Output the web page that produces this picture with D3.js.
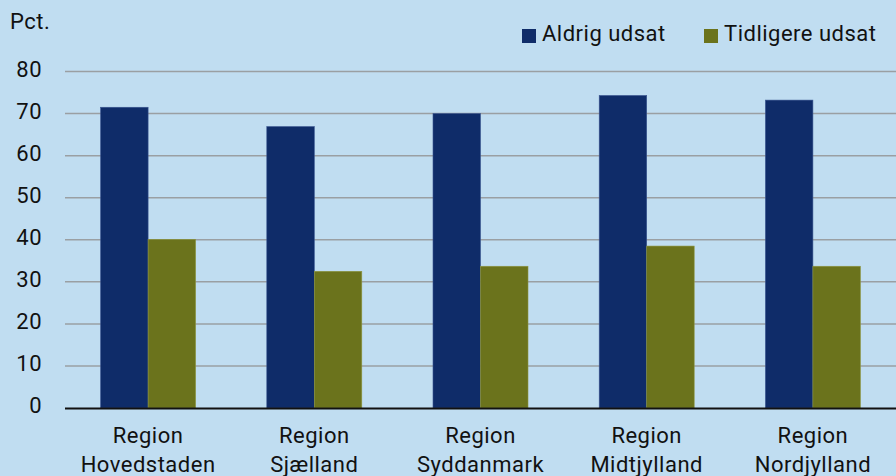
<!DOCTYPE html>
<html><head><meta charset="utf-8">
<script src="https://cdn.jsdelivr.net/npm/d3@7"></script>
<style>
html,body{margin:0;padding:0;background:#c0ddf1;}
svg{display:block;}
text{font-family:Roboto,"DejaVu Sans",sans-serif;fill:#111;letter-spacing:0.5px;}
</style></head><body>
<svg id="chart" width="896" height="476"></svg>
<script>
const categories = [["Region","Hovedstaden"],["Region","Sjælland"],["Region","Syddanmark"],["Region","Midtjylland"],["Region","Nordjylland"]];
const seriesNames = ["Aldrig udsat","Tidligere udsat"];
const aldrig = [71.5, 66.9, 70.0, 74.3, 73.2];
const tidligere = [40.1, 32.5, 33.7, 38.5, 33.7];
const yTicks = [0,10,20,30,40,50,60,70,80];
const colors = ["#0f2c69","#6b731c"];

const svg = d3.select("#chart");
const W=896,H=476;
const m={left:65,right:0,top:71.5,bottom:68};
const FS=22;
svg.append("rect").attr("width",W).attr("height",H).attr("fill","#c0ddf1");

const x = d3.scaleBand().domain(d3.range(categories.length)).range([m.left,W-m.right]).paddingInner(0).paddingOuter(0);
const y = d3.scaleLinear().domain([0,80]).range([H-m.bottom, m.top]);

// gridlines
svg.append("g").selectAll("line").data(yTicks.filter(d=>d>0)).join("line")
  .attr("x1",m.left).attr("x2",W).attr("y1",d=>y(d)).attr("y2",d=>y(d))
  .attr("stroke","#9a9fa3").attr("stroke-width",1.5);

// y tick labels
const yAxis = d3.axisLeft(y).tickValues(yTicks).tickSize(0).tickPadding(0);
const ga = svg.append("g").attr("transform",`translate(42,0)`).call(yAxis);
ga.select(".domain").remove();
ga.selectAll("text").attr("font-size",FS).attr("font-family","Roboto, sans-serif").attr("fill","#111").attr("dy",null).attr("y",4.5).style("letter-spacing","0.5px");

// bars
const bw = 47.5;
const data = [aldrig, tidligere];
data.forEach((vals,si)=>{
  svg.append("g").selectAll("rect").data(vals).join("rect")
    .attr("x",(d,i)=>x(i)+x.bandwidth()/2 - bw + si*bw)
    .attr("width",bw)
    .attr("y",d=>y(d)).attr("height",d=>y(0)-y(d))
    .attr("fill",colors[si]).attr("stroke",si===0?"#3a5590":"#8e9540").attr("stroke-width",0.6);
});

// x axis
svg.append("line").attr("x1",m.left).attr("x2",W).attr("y1",y(0)+0.5).attr("y2",y(0)+0.5).attr("stroke","#111").attr("stroke-width",2);

const xl = svg.append("g").selectAll("text").data(categories).join("text")
  .attr("text-anchor","middle").attr("font-size",FS)
  .attr("x",(d,i)=>x(i)+x.bandwidth()/2).attr("y",443);
xl.append("tspan").attr("x",(d,i)=>x(i)+x.bandwidth()/2).text(d=>d[0]);
xl.append("tspan").attr("x",(d,i)=>x(i)+x.bandwidth()/2).attr("dy",29).text(d=>d[1]);

// Pct label
svg.append("text").attr("x",10).attr("y",29).attr("font-size",FS).text("Pct.");

// legend
const legX=[522,704];
seriesNames.forEach((n,i)=>{
  svg.append("rect").attr("x",legX[i]).attr("y",29).attr("width",14).attr("height",14).attr("fill",colors[i]);
  svg.append("text").attr("x",legX[i]+20).attr("y",41).attr("font-size",FS).text(n);
});
</script>
</body></html>
